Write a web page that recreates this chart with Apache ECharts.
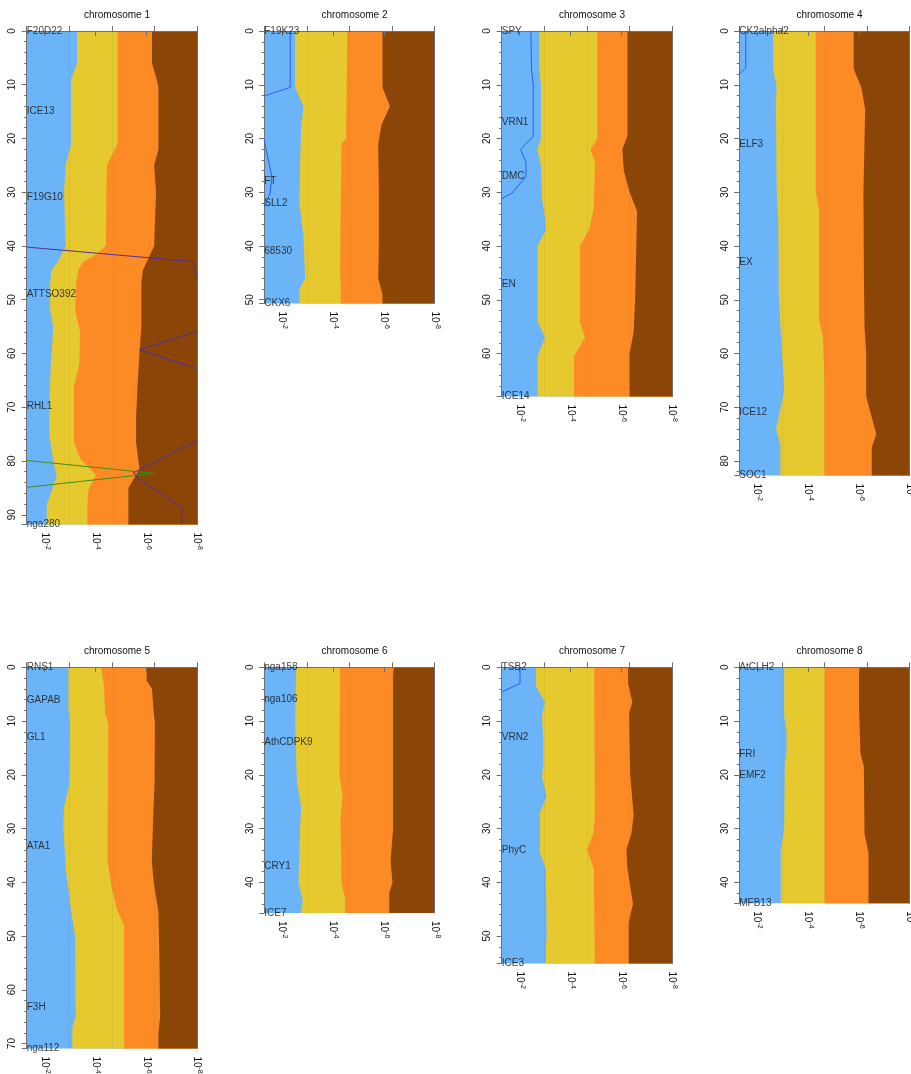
<!DOCTYPE html>
<html>
<head>
<meta charset="utf-8">
<title>chromosome scans</title>
<script src="https://cdn.jsdelivr.net/npm/echarts@6/dist/echarts.min.js"></script>
<style>
  html, body { margin: 0; padding: 0; background: #fff; }
  #chart { width: 911px; height: 1074px; }
</style>
</head>
<body>
<div id="chart"></div>
<script>
// boundaries between the coloured bands: [ -log10(p), position cM ]
// each chromosome: blue|yellow, yellow|orange, orange|brown
const chr1Bands = [
  [[2.36,0],[2.36,6],[2.08,9],[2.08,21],[1.83,25],[1.75,30],[1.83,40],[1.45,43],[1.17,44.4],[1.1,47],[1.1,52],[1.25,55],[1.13,62],[1.06,70],[1.06,75],[1.25,80],[1.41,82.6],[1.17,85.6],[0.94,88],[0.94,91.8]],
  [[4.26,0],[4.26,21],[3.76,25],[3.74,30],[3.72,40],[3.29,41.5],[2.63,43],[2.43,44.4],[2.32,47],[2.28,52],[2.5,56],[2.47,62],[2.22,66],[2.22,76.5],[2.5,79.5],[3.25,82.6],[2.9,85.3],[2.85,88],[2.85,91.8]],
  [[5.88,0],[5.88,6],[6.1,9],[6.18,10.5],[6.18,22],[5.98,25],[6.07,30],[5.98,40],[5.45,44.5],[5.38,47],[5.38,55],[5.29,60],[5.2,66],[5.13,72],[5.13,76.5],[5.29,81.5],[4.77,85],[4.77,91.8]]
]
const chr2Bands = [
  [[1.45,0],[1.45,10.5],[1.84,14],[1.73,18],[1.68,25],[1.65,32],[1.84,38],[1.92,46],[1.65,48],[1.65,50.7]],
  [[3.9,0],[3.84,20],[3.63,21],[3.6,30],[3.56,45],[3.59,47],[3.59,50.7]],
  [[5.55,0],[5.55,10.5],[5.9,14],[5.5,17.5],[5.35,21],[5.38,30],[5.38,40],[5.35,46],[5.55,49],[5.55,50.7]]
]
const chr3Bands = [
  [[1.76,0],[1.76,7],[1.84,10],[1.84,20],[1.68,22],[1.84,25],[1.89,31],[2.04,35],[2.07,37],[1.68,40],[1.68,54],[2.03,57],[1.68,60.5],[1.68,68]],
  [[4.48,0],[4.48,20],[4.17,22],[4.38,24.5],[4.32,33],[4.1,37],[3.67,40],[3.67,54],[3.9,57],[3.39,60.5],[3.39,68]],
  [[5.9,0],[5.9,19.5],[5.66,22],[5.73,26],[6.0,30],[6.35,33.5],[6.26,50],[6.19,56],[6.0,60],[6.0,68]]
]
const chr4Bands = [
  [[1.59,0],[1.59,7],[1.76,10.5],[1.72,13],[1.76,30],[1.83,35],[1.86,50],[1.98,58],[2.11,66.5],[2.06,68],[1.73,74],[1.93,77],[1.93,82.7]],
  [[3.59,0],[3.59,30],[3.74,33],[3.74,53.5],[3.93,57],[4.0,65],[4.0,82.7]],
  [[5.37,0],[5.37,7],[5.73,10.5],[5.91,14.5],[5.83,30],[5.85,45],[5.88,55],[5.96,60],[5.96,68],[6.43,75],[6.22,77.5],[6.22,82.7]]
]
const chr5Bands = [
  [[1.96,0],[1.96,8],[2.03,10],[1.99,22],[1.75,26],[1.72,30],[1.85,38],[2.07,45],[2.27,50],[2.3,65],[2.14,67],[2.14,70.9]],
  [[3.49,0],[3.63,3.5],[3.68,8.5],[3.83,10.5],[3.79,36],[3.99,41],[4.23,45],[4.57,48],[4.57,70.9]],
  [[5.63,0],[5.63,2.5],[5.88,4],[5.95,8],[6.02,10.5],[6.0,22],[5.95,26],[5.87,36],[5.96,40],[6.18,45.5],[6.23,55],[6.26,65],[6.18,68],[6.18,70.9]]
]
const chr6Bands = [
  [[1.5,0],[1.45,10],[1.53,21],[1.73,26],[1.68,30],[1.61,40],[1.81,43.5],[1.72,45.7]],
  [[3.56,0],[3.53,20],[3.68,24],[3.58,28],[3.63,40],[3.79,43],[3.79,45.7]],
  [[6.08,0],[6.05,2],[6.05,30],[5.93,36],[6.02,40],[5.87,42],[5.87,45.7]]
]
const chr7Bands = [
  [[1.61,0],[1.61,3.5],[2.03,6.5],[1.89,9],[1.95,13],[1.95,18],[1.89,20.5],[2.11,24],[1.79,27],[1.79,34.5],[2.07,37.5],[2.11,50],[2.07,52],[2.07,55.1]],
  [[4.34,0],[4.37,28],[4.29,31],[4.01,34],[4.32,37.5],[4.37,55.1]],
  [[5.93,0],[5.93,3],[6.13,6.5],[5.98,8.5],[6.0,14],[6.03,20],[6.19,27.5],[6.08,31],[5.85,34],[5.9,37.5],[6.16,44],[5.96,47.5],[5.96,55.1]]
]
const chr8Bands = [
  [[2.11,0],[2.11,9],[2.22,12],[2.22,16],[2.14,18],[2.11,30],[1.95,34],[1.95,43.9]],
  [[4.01,0],[4.01,43.9]],
  [[5.62,0],[5.62,7],[5.69,16],[5.85,18.5],[5.88,31],[6.07,34.5],[6.07,43.9]]
]

const chrLengths = [91.8, 50.7, 68, 82.7, 70.9, 45.7, 55.1, 43.9]

const chr1Markers = ['F20D22', 'ICE13', 'F19G10', 'ATTSO392', 'RHL1', 'nga280']
const chr1MarkerPos = [0, 15, 30.9, 48.9, 69.9, 91.8]
const chr2Markers = ['F19K23', 'FT', 'SLL2', '68530', 'CKX6']
const chr2MarkerPos = [0, 28, 32, 41, 50.7]
const chr3Markers = ['SPY', 'VRN1', 'DMC', 'EN', 'ICE14']
const chr3MarkerPos = [0, 17, 27.1, 47.1, 68]
const chr4Markers = ['CK2alpha2', 'ELF3', 'EX', 'ICE12', 'SOC1']
const chr4MarkerPos = [0, 21.1, 43.1, 70.9, 82.7]
const chr5Markers = ['RNS1', 'GAPAB', 'GL1', 'ATA1', 'F3H', 'nga112']
const chr5MarkerPos = [0, 6.1, 13.1, 33.3, 63.2, 70.9]
const chr6Markers = ['nga158', 'nga106', 'AthCDPK9', 'CRY1', 'ICE7']
const chr6MarkerPos = [0, 6, 14, 37, 45.7]
const chr7Markers = ['TSB2', 'VRN2', 'PhyC', 'ICE3']
const chr7MarkerPos = [0, 13.1, 34.1, 55.1]
const chr8Markers = ['AtCLH2', 'FRI', 'EMF2', 'MFB13']
const chr8MarkerPos = [0, 16.1, 20, 43.9]

// profile curves (pieces that fall inside the plotted range)
const chr1Purple = [
  [[0,40.2],[7.79,42.9],[8,45.7]],
  [[8,55.9],[5.29,59.3],[8,62.8]],
  [[8,76.2],[5.0,82.2],[5.25,82.8],[5.14,83.1],[7.28,88.6],[7.28,91.8]]
]
const chr1Green = [
  [[0,79.9],[5.99,82.3],[0,84.9]]
]
const chr2Blue = [
  [[1.22,0],[1.22,10.5],[0,12.1]],
  [[0,20.3],[0.36,27.1],[0.28,30.2],[0,32.7]]
]
const chr3Blue = [
  [[1.37,0],[1.4,7.2],[1.48,10],[1.48,19.6],[0.89,22],[1.14,24.4],[1.14,27.1],[0.47,30.2],[0,31.2]]
]
const chr4Blue = [
  [[0.31,0],[0.31,6.9],[0.11,7.6],[0,8]]
]
const chr7Blue = [
  [[0.86,0],[0.86,3],[0.05,4.5],[0,4.6]]
]

const xTicks = [2, 4, 6, 8]

const bandColors = ['#6cb4f8', '#e5c92e', '#fd8b25', '#8b4607']
const FONT = "'Liberation Sans', Arial, sans-serif"
const PX_PER_CM = 5.375
const PANEL_W = 170.5

const chromosomes = [
  { bands: chr1Bands, markers: chr1Markers, pos: chr1MarkerPos, lines: [[chr1Purple, '#4f2fa0'], [chr1Green, '#3f8c14']] },
  { bands: chr2Bands, markers: chr2Markers, pos: chr2MarkerPos, lines: [[chr2Blue, '#2f5af2']] },
  { bands: chr3Bands, markers: chr3Markers, pos: chr3MarkerPos, lines: [[chr3Blue, '#2f5af2']] },
  { bands: chr4Bands, markers: chr4Markers, pos: chr4MarkerPos, lines: [[chr4Blue, '#2f5af2']] },
  { bands: chr5Bands, markers: chr5Markers, pos: chr5MarkerPos, lines: [] },
  { bands: chr6Bands, markers: chr6Markers, pos: chr6MarkerPos, lines: [] },
  { bands: chr7Bands, markers: chr7Markers, pos: chr7MarkerPos, lines: [[chr7Blue, '#2f5af2']] },
  { bands: chr8Bands, markers: chr8Markers, pos: chr8MarkerPos, lines: [] }
]

const chart = echarts.init(document.getElementById('chart'), null, { renderer: 'canvas' })

const grids = []
const xAxes = []
const yAxes = []
const titles = []
const series = []

const axisLineStyle = { color: '#6f6f6f', width: 1 }

chromosomes.forEach((chr, i) => {
  const len = chrLengths[i]
  const left = 26.7 + 237.5 * (i % 4)
  const top = i < 4 ? 31 : 667.3
  const height = len * PX_PER_CM

  grids.push({ left: left, top: top, width: PANEL_W, height: height, outerBoundsMode: 'none' })

  titles.push({
    text: 'chromosome ' + (i + 1),
    left: left + PANEL_W / 2,
    top: top - 26,
    textAlign: 'center',
    textStyle: { fontFamily: FONT, fontSize: 10, fontWeight: 'normal', color: '#111' }
  })

  // top axis: the real scale, ticks + faint grid lines
  xAxes.push({
    gridIndex: i, type: 'value', position: 'top', min: 0, max: 8, interval: 2, z: 3,
    axisLine: { show: true, lineStyle: axisLineStyle },
    axisTick: { show: true, inside: false, length: 5, lineStyle: axisLineStyle },
    axisLabel: { show: false },
    splitLine: { show: true, lineStyle: { color: 'rgba(90,90,90,0.08)', width: 1 } }
  })
  // bottom axis: labels 10^-k
  xAxes.push({
    gridIndex: i, type: 'value', position: 'bottom', min: 1.3, max: 8, z: 3,
    axisLine: { show: true, lineStyle: axisLineStyle },
    axisTick: { show: true, length: 5, customValues: xTicks, lineStyle: axisLineStyle },
    axisLabel: {
      show: true, customValues: xTicks, rotate: -90, margin: 8,
      formatter: v => '{b|10}{s|-' + v + '}',
      rich: {
        b: { fontFamily: FONT, fontSize: 10, color: '#111', lineHeight: 13 },
        s: { fontFamily: FONT, fontSize: 7, color: '#111', verticalAlign: 'top', lineHeight: 8 }
      }
    },
    splitLine: { show: false }
  })
  yAxes.push({
    gridIndex: i, type: 'value', inverse: true, min: 0, max: len, interval: 10, z: 3,
    axisLine: { show: true, lineStyle: axisLineStyle },
    axisTick: { show: true, length: 5, lineStyle: axisLineStyle },
    minorTick: { show: true, splitNumber: 5, length: 2.5, lineStyle: axisLineStyle },
    axisLabel: {
      show: true, rotate: 90, margin: 9, showMaxLabel: false,
      fontFamily: FONT, fontSize: 10, color: '#111',
      formatter: v => (v % 10 === 0 ? String(v) : '')
    },
    splitLine: { show: false }
  })
  yAxes.push({
    gridIndex: i, type: 'value', position: 'right', inverse: true, min: 0, max: len, z: 3,
    axisLine: { show: true, lineStyle: axisLineStyle },
    axisTick: { show: false }, axisLabel: { show: false }, splitLine: { show: false }
  })

  const xi = 2 * i
  const yi = 2 * i

  // bands: each band runs from its left boundary to the right edge, later ones on top
  series.push({
    type: 'custom',
    xAxisIndex: xi, yAxisIndex: yi, z: 1,
    silent: true,
    data: bandColors.map((c, k) => [k, 0]),
    encode: { x: 0, y: 1 },
    renderItem: (params, api) => {
      const k = params.dataIndex
      const leftEdge = k === 0 ? [[0, 0], [0, len]] : chr.bands[k - 1]
      const pts = leftEdge.map(p => api.coord(p))
      pts.push(api.coord([8, len]))
      pts.push(api.coord([8, 0]))
      return { type: 'polygon', shape: { points: pts }, style: { fill: bandColors[k] } }
    }
  })

  chr.lines.forEach(([segments, color]) => {
    segments.forEach(seg => {
      series.push({
        type: 'line', xAxisIndex: xi, yAxisIndex: yi, z: 5,
        data: seg, showSymbol: false, symbol: 'none', silent: true,
        lineStyle: { color: color, width: 1 }
      })
    })
  })

  series.push({
    type: 'scatter', xAxisIndex: xi, yAxisIndex: yi, z: 6, silent: true,
    symbolSize: 0.1,
    itemStyle: { color: 'rgba(0,0,0,0)' },
    data: chr.markers.map((m, j) => ({ name: m, value: [0, chr.pos[j]] })),
    label: {
      show: true, position: 'right', distance: 0, formatter: '{b}',
      fontFamily: FONT, fontSize: 10, color: '#111'
    }
  })
})

chart.setOption({
  backgroundColor: '#fff',
  animation: false,
  title: titles,
  grid: grids,
  xAxis: xAxes,
  yAxis: yAxes,
  series: series
})
</script>
</body>
</html>
